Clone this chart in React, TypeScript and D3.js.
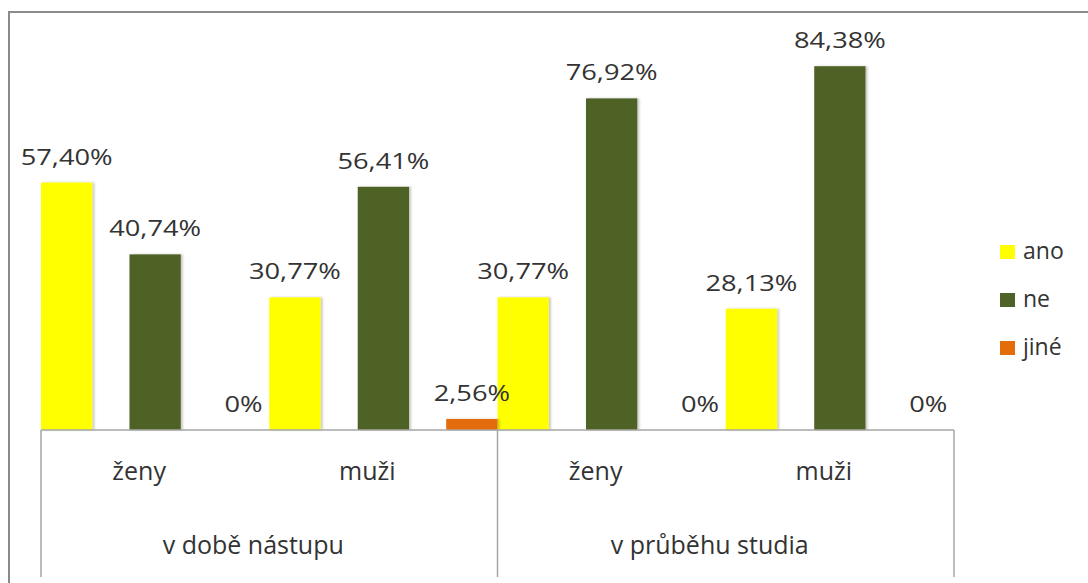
import React from "react";
import * as d3 from "d3";

const categories = ["ženy", "muži", "ženy", "muži"];
const groups = ["v době nástupu", "v průběhu studia"];
const seriesNames = ["ano", "ne", "jiné"];
const anoValues = [57.4, 30.77, 30.77, 28.13];
const neValues = [40.74, 56.41, 76.92, 84.38];
const jineValues = [0, 2.56, 0, 0];
const seriesColors = ["#FFFF00", "#4F6228", "#E46C0A"];

const W = 1088;
const H = 583;
const plotLeft = 41;
const plotRight = 954;
const baseY = 430;
const plotTop = 42;
const font = "'Open Sans', 'Noto Sans', sans-serif";
const textColor = "#333333";

const fmt = (v: number) => (v === 0 ? "0%" : v.toFixed(2).replace(".", ",") + "%");

export default function App() {
  const seriesValues = [anoValues, neValues, jineValues];
  const catKeys = categories.map((_, i) => String(i));
  const x0 = d3.scaleBand<string>().domain(catKeys).range([plotLeft, plotRight]).padding(0);
  const x1 = d3
    .scaleBand<string>()
    .domain(seriesNames)
    .range([0, x0.bandwidth()])
    .paddingInner(0.42)
    .paddingOuter(0);
  const y = d3.scaleLinear().domain([0, 90]).range([baseY, plotTop]);
  const g0 = d3.scaleBand<string>().domain(groups).range([plotLeft, plotRight]).padding(0);
  const legendY = d3.scalePoint<string>().domain(seriesNames).range([252, 348]);

  return (
    <svg
      width={W}
      height={H}
      style={{ position: "absolute", left: 0, top: 0, display: "block", background: "#fff" }}
    >
      <defs>
        <filter id="shadow" x="-20%" y="-5%" width="140%" height="110%">
          <feDropShadow dx="2" dy="0" stdDeviation="1.2" floodColor="#000" floodOpacity="0.22" />
        </filter>
      </defs>
      <rect x={0} y={0} width={W} height={H} fill="#fff" />
      {/* outer frame */}
      <rect x={9} y={12} width={W + 20} height={H + 20} fill="none" stroke="#8a8a8a" strokeWidth={2} />

      {/* bars */}
      {seriesValues.map((vals, si) =>
        vals.map((v, ci) => {
          const bx = (x0(String(ci)) as number) + (x1(seriesNames[si]) as number);
          const bw = x1.bandwidth();
          const top = y(v);
          return (
            <g key={`b-${si}-${ci}`}>
              {v > 0 && (
                <rect
                  x={bx}
                  y={top}
                  width={bw}
                  height={baseY - top}
                  fill={seriesColors[si]}
                  filter="url(#shadow)"
                />
              )}
              <text
                transform={`translate(${bx + bw / 2},${top - 18}) scale(1.24,1)`}
                textAnchor="middle"
                fontFamily={font}
                fontSize={22}
                fill={textColor}
              >
                {fmt(v)}
              </text>
            </g>
          );
        })
      )}

      {/* axis line */}
      <line x1={plotLeft} x2={plotRight} y1={baseY} y2={baseY} stroke="#a6a6a6" strokeWidth={1.5} />
      {/* dividers */}
      {[plotLeft, g0(groups[1]) as number, plotRight].map((xv, i) => (
        <line key={`d-${i}`} x1={xv} x2={xv} y1={baseY} y2={577} stroke="#a6a6a6" strokeWidth={1.5} />
      ))}

      {/* category labels */}
      {categories.map((c, ci) => (
        <text
          key={`c-${ci}`}
          x={(x0(String(ci)) as number) + x0.bandwidth() / 2 - 16}
          y={480}
          textAnchor="middle"
          fontFamily={font}
          fontSize={25}
          fill={textColor}
        >
          {c}
        </text>
      ))}
      {/* group labels */}
      {groups.map((gname) => (
        <text
          key={`g-${gname}`}
          x={(g0(gname) as number) + g0.bandwidth() / 2 - 16}
          y={554}
          textAnchor="middle"
          fontFamily={font}
          fontSize={25}
          fill={textColor}
        >
          {gname}
        </text>
      ))}

      {/* legend */}
      {seriesNames.map((s, si) => {
        const ly = legendY(s) as number;
        return (
          <g key={`l-${s}`}>
            <rect x={1000} y={ly - 7} width={15} height={14} fill={seriesColors[si]} />
            <text x={1023} y={ly + 7} fontFamily={font} fontSize={23} fill={textColor}>
              {s}
            </text>
          </g>
        );
      })}
    </svg>
  );
}
